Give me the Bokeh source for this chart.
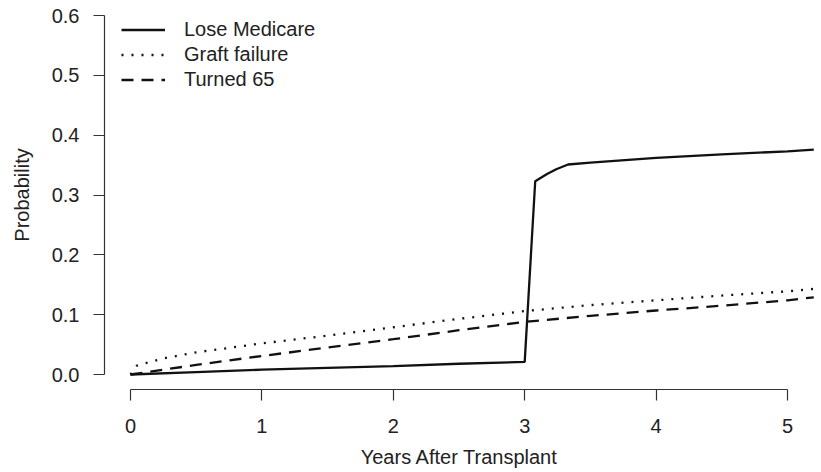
from bokeh.plotting import figure
from bokeh.models import Range1d, Legend, LegendItem, FixedTicker, PrintfTickFormatter
from bokeh.embed import file_html
from bokeh.resources import INLINE

# Data
lose_x = [0.0, 0.5, 1.0, 1.5, 2.0, 2.5, 3.0, 3.08, 3.17, 3.24, 3.33, 3.5, 4.0, 4.5, 5.0, 5.2]
lose_y = [0.0, 0.004, 0.008, 0.011, 0.014, 0.018, 0.021, 0.323, 0.335, 0.343, 0.351, 0.354, 0.362, 0.368, 0.373, 0.376]

graft_x = [0.0, 0.05, 0.25, 0.5, 1.0, 1.5, 2.0, 2.5, 3.0, 3.5, 4.0, 4.5, 5.0, 5.2]
graft_y = [0.0, 0.015, 0.027, 0.037, 0.052, 0.065, 0.079, 0.093, 0.106, 0.116, 0.124, 0.132, 0.139, 0.143]

t65_x = [0.0, 0.25, 0.5, 1.0, 1.5, 2.0, 2.5, 3.0, 3.5, 4.0, 4.5, 5.0, 5.2]
t65_y = [0.0, 0.008, 0.016, 0.031, 0.045, 0.059, 0.074, 0.088, 0.098, 0.107, 0.115, 0.124, 0.129]

x_ticks = [0, 1, 2, 3, 4, 5]
y_ticks = [0.0, 0.1, 0.2, 0.3, 0.4, 0.5, 0.6]
series_labels = ["Lose Medicare", "Graft failure", "Turned 65"]

FONT = "Liberation Sans"
TXT = "#222222"

p = figure(width=821, height=472,
           x_range=Range1d(-0.1979, 5.2055), y_range=Range1d(-0.02507, 0.6251),
           output_backend="svg", toolbar_location=None,
           min_border_left=104, min_border_right=7, min_border_top=0, min_border_bottom=83)
p.outline_line_color = None
p.xgrid.visible = False
p.ygrid.visible = False
p.background_fill_color = "white"

r1 = p.line(lose_x, lose_y, line_color="#111111", line_width=2.3)
r2 = p.line(graft_x, graft_y, line_color="#111111", line_width=2.3, line_dash="2 8")
r3 = p.line(t65_x, t65_y, line_color="#111111", line_width=2.3, line_dash="12 8")

for ax in (p.xaxis[0], p.yaxis[0]):
    ax.axis_line_color = "#333333"
    ax.axis_line_width = 1.2
    ax.major_tick_line_color = "#333333"
    ax.major_tick_line_width = 1.2
    ax.major_tick_out = 11
    ax.major_tick_in = 0
    ax.minor_tick_line_color = None
    ax.major_label_text_font = FONT
    ax.major_label_text_font_size = "20px"
    ax.major_label_text_color = TXT
    ax.axis_label_text_font = FONT
    ax.axis_label_text_font_size = "20px"
    ax.axis_label_text_font_style = "normal"
    ax.axis_label_text_color = TXT

p.xaxis.ticker = FixedTicker(ticks=x_ticks)
p.yaxis.ticker = FixedTicker(ticks=y_ticks)
p.yaxis.formatter = PrintfTickFormatter(format="%.1f")
p.xaxis.bounds = (x_ticks[0], x_ticks[-1])
p.yaxis.bounds = (y_ticks[0], y_ticks[-1])
p.xaxis.major_label_standoff = 18
p.yaxis.major_label_standoff = 14
p.yaxis.major_label_orientation = "horizontal"
p.xaxis.axis_label = "Years After Transplant"
p.yaxis.axis_label = "Probability"
p.xaxis.axis_label_standoff = 10
p.yaxis.axis_label_standoff = 16

legend = Legend(items=[LegendItem(label=series_labels[0], renderers=[r1]),
                       LegendItem(label=series_labels[1], renderers=[r2]),
                       LegendItem(label=series_labels[2], renderers=[r3])],
                location=(17, 297), padding=0, margin=0, spacing=0,
                glyph_width=44, glyph_height=25, label_height=25, label_standoff=19,
                label_text_font=FONT, label_text_font_size="20px", label_text_color=TXT,
                border_line_alpha=0, background_fill_alpha=0)
p.add_layout(legend)

open("out.html", "w").write(file_html(p, INLINE))
